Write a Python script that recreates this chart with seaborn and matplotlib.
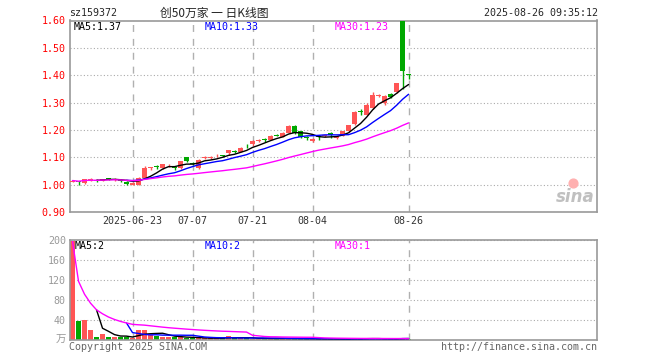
import numpy as np
import pandas as pd
import seaborn as sns
import matplotlib
matplotlib.use('Agg')
import matplotlib.pyplot as plt

# daily candles, 2025-06-09 .. 2025-08-26 (57 trading days)
opens = [1.010, 1.012, 1.005, 1.015, 1.016, 1.015, 1.025, 1.018, 1.018, 1.010,
         1.000, 1.000, 1.025, 1.060, 1.065, 1.060, 1.070, 1.061, 1.060, 1.100,
         1.080, 1.060, 1.098, 1.098, 1.103, 1.106, 1.115, 1.121, 1.120, 1.141,
         1.150, 1.160, 1.164, 1.164, 1.182, 1.175, 1.190, 1.215, 1.195, 1.171,
         1.160, 1.176, 1.178, 1.190, 1.172, 1.178, 1.196, 1.220, 1.266, 1.255,
         1.280, 1.323, 1.300, 1.333, 1.337, 1.600, 1.401]
closes = [1.015, 1.010, 1.020, 1.020, 1.015, 1.020, 1.020, 1.022, 1.013, 1.003,
          1.005, 1.025, 1.060, 1.060, 1.064, 1.075, 1.070, 1.060, 1.085, 1.085,
          1.075, 1.090, 1.100, 1.100, 1.105, 1.105, 1.125, 1.120, 1.135, 1.140,
          1.160, 1.163, 1.163, 1.178, 1.178, 1.190, 1.215, 1.190, 1.175, 1.170,
          1.168, 1.175, 1.180, 1.180, 1.176, 1.195, 1.217, 1.265, 1.265, 1.290,
          1.328, 1.325, 1.325, 1.320, 1.370, 1.415, 1.400]
highs = [1.018, 1.015, 1.022, 1.023, 1.022, 1.022, 1.026, 1.025, 1.020, 1.012,
         1.008, 1.028, 1.068, 1.066, 1.072, 1.077, 1.075, 1.066, 1.088, 1.101,
         1.082, 1.093, 1.106, 1.106, 1.111, 1.110, 1.128, 1.128, 1.137, 1.148,
         1.163, 1.166, 1.170, 1.180, 1.184, 1.192, 1.217, 1.217, 1.197, 1.178,
         1.170, 1.180, 1.183, 1.192, 1.178, 1.197, 1.219, 1.268, 1.275, 1.300,
         1.340, 1.330, 1.328, 1.335, 1.372, 1.600, 1.405]
lows = [1.008, 1.000, 1.003, 1.012, 1.008, 1.012, 1.018, 1.015, 1.010, 1.000,
        0.998, 0.998, 1.022, 1.055, 1.058, 1.058, 1.065, 1.055, 1.058, 1.083,
        1.072, 1.058, 1.095, 1.094, 1.100, 1.100, 1.110, 1.115, 1.118, 1.133,
        1.143, 1.155, 1.155, 1.162, 1.176, 1.173, 1.188, 1.185, 1.170, 1.162,
        1.157, 1.165, 1.175, 1.172, 1.168, 1.176, 1.194, 1.218, 1.256, 1.253,
        1.278, 1.320, 1.290, 1.318, 1.335, 1.350, 1.385]
# volume in 万
volumes = [197, 37, 39, 19, 6, 12, 6, 6, 5, 5,
           3, 20, 20, 10, 8, 5, 5, 6, 5, 3,
           3, 2.5, 2.5, 2.5, 2.5, 3, 7, 2.5, 3, 2.5,
           2, 2, 2, 2, 2, 2, 2, 2, 1.5, 1.5,
           1.5, 1, 1, 1.5, 1, 1, 1, 2.5, 1, 2.5,
           2, 1, 1, 1, 1.5, 4, 2]

tick_pos = [10, 20, 30, 40, 56]
tick_labels = ['2025-06-23', '07-07', '07-21', '08-04', '08-26']
price_ticks = [0.90, 1.00, 1.10, 1.20, 1.30, 1.40, 1.50, 1.60]
vol_ticks = [40, 80, 120, 160, 200]

code = 'sz159372'
title = '创50万家 一 日K线图'
stamp = '2025-08-26 09:35:12'
price_ma_text = ['MA5:1.37', 'MA10:1.33', 'MA30:1.23']
vol_ma_text = ['MA5:2', 'MA10:2', 'MA30:1']

df = pd.DataFrame({'open': opens, 'close': closes, 'high': highs,
                   'low': lows, 'vol': volumes})
df['i'] = np.arange(len(df))
df['ma5'] = df['close'].rolling(5).mean()
df['ma10'] = df['close'].rolling(10).mean()
df['ma30'] = df['close'].rolling(30, min_periods=1).mean()
df['vma5'] = df['vol'].rolling(5).mean()
df['vma10'] = df['vol'].rolling(10).mean()
df['vma30'] = df['vol'].rolling(30, min_periods=1).mean()

RED = '#ff5555'
GREEN = '#00a800'
MA_COLORS = ['black', '#0000ff', '#ff00ff']
GRID = '#aaaaaa'

sns.set_style('white')
plt.rcParams['font.family'] = ['DejaVu Sans Mono', 'Noto Sans CJK SC']

fig = plt.figure(figsize=(6.6, 3.6), dpi=100)
ax = fig.add_axes([70 / 660, 1 - 212 / 360, 527 / 660, 191.5 / 360])
axv = fig.add_axes([70 / 660, 1 - 339.5 / 360, 527 / 660, 99.5 / 360])

up = df['close'] >= df['open']
colors = np.where(up, RED, GREEN)
xlim = (-0.42, 87.4)

for a in (ax, axv):
    a.set_xlim(*xlim)
    for s in a.spines.values():
        s.set_color('#999999')
        s.set_linewidth(1.2)
    for p in tick_pos:
        a.axvline(p, color='#b0b0b0', lw=1, linestyle=(0, (5, 5)), zorder=0)
    a.grid(axis='y', color=GRID, linestyle=(0, (1, 2)), lw=0.8, zorder=0)
    a.tick_params(length=0)

# price panel
body_lo = np.minimum(df['open'], df['close'])
body_h = np.maximum((df['close'] - df['open']).abs(), 0.003)
ax.vlines(df['i'], df['low'], df['high'], colors=colors, lw=1, zorder=2)
ax.bar(df['i'], body_h, bottom=body_lo, width=0.8, color=colors, lw=0, zorder=3)
for col, c in zip(['ma5', 'ma10', 'ma30'], MA_COLORS):
    sns.lineplot(x=df['i'], y=df[col], ax=ax, color=c, lw=1, legend=False, zorder=4)

ax.set_ylim(0.90, 1.60)
ax.set_yticks(price_ticks)
ax.set_yticklabels(['%.2f' % v for v in price_ticks], color='#ff0000', fontsize=7.2)
ax.tick_params(axis='y', pad=3)
ax.set_xticks(tick_pos)
ax.set_xticklabels(tick_labels, fontsize=7.2, color='#333333')
ax.tick_params(axis='x', pad=3)
ax.set_xlabel('')
ax.set_ylabel('')

for txt, c, x in zip(price_ma_text, MA_COLORS, [74, 205, 335]):
    fig.text(x / 660, 1 - 22 / 360, txt, color=c, fontsize=7.2, va='top')

# sina logo
ax.text(0.995, 0.03, 'sina', transform=ax.transAxes, ha='right', va='bottom',
        fontsize=12, fontweight='bold', style='italic', color='#c0c0c0',
        family='DejaVu Sans', zorder=1)
ax.scatter([0.955], [0.15], transform=ax.transAxes, s=40, color='#ffb0b0',
           zorder=1)

# volume panel
axv.bar(df['i'], df['vol'], width=0.8, color=colors, lw=0, zorder=2)
for col, c in zip(['vma5', 'vma10', 'vma30'], MA_COLORS):
    sns.lineplot(x=df['i'], y=df[col], ax=axv, color=c, lw=1, legend=False, zorder=4)
axv.set_ylim(0, 200)
axv.set_yticks(vol_ticks)
axv.set_yticklabels([str(v) for v in vol_ticks], color='#999999', fontsize=7.2)
axv.tick_params(axis='y', pad=3)
axv.set_xticks([])
axv.set_xlabel('')
axv.set_ylabel('')
fig.text(66 / 660, 1 - 340 / 360, '万', color='#999999', fontsize=7.5,
         ha='right', va='center', family=['Noto Sans CJK SC', 'DejaVu Sans'])

for txt, c, x in zip(vol_ma_text, MA_COLORS, [75, 205, 335]):
    fig.text(x / 660, 1 - 241 / 360, txt, color=c, fontsize=7.2, va='top')

# header and footer
fig.text(69 / 660, 1 - 13 / 360, code, fontsize=7.2, va='center')
fig.text(214 / 660, 1 - 13 / 360, title, fontsize=8.5, va='center', ha='center',
         family=['Noto Sans CJK SC', 'DejaVu Sans'])
fig.text(598 / 660, 1 - 13 / 360, stamp, fontsize=7.2, va='center', ha='right')
fig.text(69 / 660, 1 - 347 / 360, 'Copyright 2025 SINA.COM', fontsize=7.2,
         va='center', color='#666666')
fig.text(597 / 660, 1 - 347 / 360, 'http://finance.sina.com.cn', fontsize=7.2,
         va='center', ha='right', color='#666666')

fig.savefig('out.png', dpi=100)
